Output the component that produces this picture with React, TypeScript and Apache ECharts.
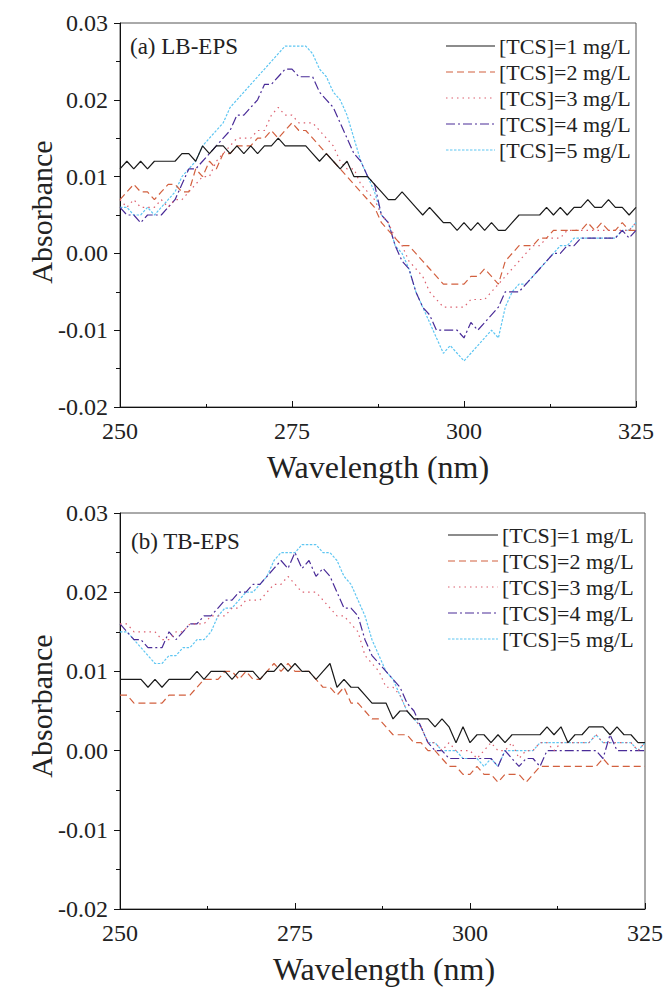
import React, { useEffect, useRef } from "react";
import * as echarts from "echarts";

const wavelengths = [
  250, 251, 252, 253, 254, 255, 256, 257, 258, 259,
  260, 261, 262, 263, 264, 265, 266, 267, 268, 269,
  270, 271, 272, 273, 274, 275, 276, 277, 278, 279,
  280, 281, 282, 283, 284, 285, 286, 287, 288, 289,
  290, 291, 292, 293, 294, 295, 296, 297, 298, 299,
  300, 301, 302, 303, 304, 305, 306, 307, 308, 309,
  310, 311, 312, 313, 314, 315, 316, 317, 318, 319,
  320, 321, 322, 323, 324, 325,
];

const seriesNames = ["[TCS]=1 mg/L", "[TCS]=2 mg/L", "[TCS]=3 mg/L", "[TCS]=4 mg/L", "[TCS]=5 mg/L"];
const panelTitles = ["(a) LB-EPS", "(b) TB-EPS"];
const yTicks = [-0.02, -0.01, 0.0, 0.01, 0.02, 0.03];
const xTicks = [250, 275, 300, 325];

// (a) LB-EPS
const lb1 = [
  0.011, 0.012, 0.011, 0.012, 0.011, 0.012, 0.012, 0.012, 0.012, 0.013,
  0.013, 0.012, 0.014, 0.013, 0.014, 0.014, 0.013, 0.014, 0.013, 0.014,
  0.013, 0.014, 0.014, 0.015, 0.014, 0.014, 0.014, 0.014, 0.013, 0.012,
  0.013, 0.012, 0.011, 0.012, 0.010, 0.010, 0.010, 0.009, 0.008, 0.007,
  0.007, 0.008, 0.007, 0.006, 0.005, 0.006, 0.005, 0.004, 0.004, 0.003,
  0.004, 0.003, 0.004, 0.003, 0.004, 0.003, 0.003, 0.004, 0.005, 0.005,
  0.005, 0.005, 0.006, 0.005, 0.006, 0.005, 0.006, 0.006, 0.007, 0.006,
  0.006, 0.007, 0.006, 0.006, 0.005, 0.006,
];
const lb2 = [
  0.007, 0.008, 0.009, 0.008, 0.008, 0.007, 0.008, 0.009, 0.009, 0.008,
  0.008, 0.011, 0.010, 0.012, 0.011, 0.013, 0.013, 0.014, 0.014, 0.014,
  0.015, 0.015, 0.016, 0.015, 0.016, 0.017, 0.016, 0.016, 0.015, 0.014,
  0.013, 0.012, 0.011, 0.010, 0.009, 0.008, 0.007, 0.006, 0.004, 0.003,
  0.002, 0.001, 0.001, 0.000, -0.001, -0.002, -0.003, -0.004, -0.004, -0.004,
  -0.004, -0.003, -0.003, -0.002, -0.003, -0.004, -0.001, 0.000, 0.001, 0.001,
  0.001, 0.002, 0.002, 0.003, 0.003, 0.003, 0.003, 0.003, 0.004, 0.003,
  0.004, 0.003, 0.003, 0.004, 0.003, 0.003,
];
const lb3 = [
  0.007, 0.006, 0.007, 0.006, 0.006, 0.006, 0.007, 0.006, 0.007, 0.007,
  0.008, 0.009, 0.010, 0.010, 0.012, 0.013, 0.014, 0.015, 0.015, 0.015,
  0.016, 0.016, 0.018, 0.019, 0.018, 0.018, 0.017, 0.017, 0.017, 0.016,
  0.015, 0.014, 0.012, 0.011, 0.011, 0.009, 0.008, 0.007, 0.005, 0.004,
  0.002, 0.001, -0.001, -0.002, -0.003, -0.005, -0.006, -0.007, -0.007, -0.007,
  -0.007, -0.006, -0.006, -0.006, -0.005, -0.004, -0.003, -0.002, -0.001, 0.000,
  0.001, 0.001, 0.002, 0.002, 0.002, 0.003, 0.003, 0.003, 0.003, 0.003,
  0.003, 0.003, 0.003, 0.003, 0.003, 0.004,
];
const lb4 = [
  0.006, 0.005, 0.005, 0.004, 0.005, 0.005, 0.005, 0.006, 0.007, 0.009,
  0.011, 0.011, 0.012, 0.013, 0.014, 0.015, 0.016, 0.018, 0.018, 0.019,
  0.020, 0.022, 0.022, 0.023, 0.024, 0.024, 0.023, 0.023, 0.023, 0.021,
  0.020, 0.019, 0.017, 0.015, 0.013, 0.012, 0.010, 0.009, 0.005, 0.004,
  0.001, -0.001, -0.002, -0.005, -0.007, -0.008, -0.010, -0.010, -0.010, -0.010,
  -0.011, -0.009, -0.010, -0.009, -0.008, -0.007, -0.005, -0.005, -0.005, -0.004,
  -0.003, -0.002, -0.001, 0.000, 0.000, 0.001, 0.001, 0.002, 0.002, 0.002,
  0.002, 0.002, 0.002, 0.003, 0.002, 0.003,
];
const lb5 = [
  0.006, 0.006, 0.005, 0.005, 0.006, 0.005, 0.006, 0.007, 0.008, 0.010,
  0.011, 0.012, 0.014, 0.015, 0.016, 0.017, 0.019, 0.020, 0.021, 0.022,
  0.023, 0.024, 0.025, 0.026, 0.027, 0.027, 0.027, 0.027, 0.026, 0.024,
  0.023, 0.021, 0.020, 0.018, 0.015, 0.012, 0.010, 0.008, 0.005, 0.004,
  0.001, 0.000, -0.002, -0.005, -0.007, -0.009, -0.011, -0.013, -0.012, -0.013,
  -0.014, -0.013, -0.012, -0.011, -0.010, -0.011, -0.007, -0.005, -0.004, -0.004,
  -0.003, -0.002, -0.001, 0.000, 0.001, 0.001, 0.002, 0.002, 0.002, 0.002,
  0.002, 0.002, 0.002, 0.003, 0.003, 0.004,
];

// (b) TB-EPS
const tb1 = [
  0.009, 0.009, 0.009, 0.009, 0.008, 0.009, 0.008, 0.009, 0.009, 0.009,
  0.009, 0.010, 0.009, 0.010, 0.010, 0.010, 0.009, 0.010, 0.010, 0.010,
  0.009, 0.010, 0.010, 0.011, 0.010, 0.011, 0.010, 0.010, 0.009, 0.010,
  0.011, 0.008, 0.009, 0.008, 0.008, 0.007, 0.006, 0.006, 0.006, 0.004,
  0.005, 0.005, 0.004, 0.004, 0.004, 0.003, 0.004, 0.003, 0.001, 0.003,
  0.001, 0.002, 0.002, 0.001, 0.002, 0.001, 0.002, 0.002, 0.002, 0.002,
  0.002, 0.003, 0.002, 0.003, 0.001, 0.002, 0.002, 0.003, 0.003, 0.003,
  0.002, 0.003, 0.002, 0.002, 0.001, 0.001,
];
const tb2 = [
  0.007, 0.007, 0.006, 0.006, 0.006, 0.006, 0.006, 0.007, 0.007, 0.007,
  0.007, 0.008, 0.009, 0.009, 0.009, 0.010, 0.010, 0.009, 0.010, 0.009,
  0.009, 0.010, 0.011, 0.010, 0.011, 0.010, 0.010, 0.010, 0.009, 0.008,
  0.008, 0.007, 0.008, 0.006, 0.006, 0.005, 0.004, 0.004, 0.003, 0.002,
  0.002, 0.002, 0.001, 0.001, 0.000, 0.000, -0.001, -0.002, -0.002, -0.003,
  -0.003, -0.002, -0.003, -0.003, -0.004, -0.003, -0.003, -0.003, -0.004, -0.003,
  -0.002, -0.002, -0.002, -0.002, -0.002, -0.002, -0.002, -0.002, -0.002, -0.001,
  -0.002, -0.002, -0.002, -0.002, -0.002, -0.002,
];
const tb3 = [
  0.016, 0.016, 0.015, 0.015, 0.015, 0.015, 0.014, 0.014, 0.015, 0.015,
  0.016, 0.016, 0.016, 0.017, 0.017, 0.017, 0.018, 0.018, 0.019, 0.019,
  0.019, 0.020, 0.021, 0.021, 0.022, 0.021, 0.020, 0.020, 0.020, 0.019,
  0.018, 0.017, 0.017, 0.016, 0.015, 0.012, 0.011, 0.010, 0.008, 0.008,
  0.007, 0.005, 0.004, 0.003, 0.001, 0.001, 0.000, 0.001, 0.000, 0.000,
  0.000, -0.001, 0.000, 0.001, 0.000, 0.000, 0.001, -0.001, 0.000, 0.000,
  0.001, 0.001, 0.000, 0.001, 0.001, 0.001, 0.001, 0.001, 0.002, 0.001,
  0.001, 0.001, 0.001, 0.001, 0.000, 0.001,
];
const tb4 = [
  0.016, 0.015, 0.014, 0.014, 0.013, 0.013, 0.013, 0.015, 0.014, 0.015,
  0.016, 0.016, 0.017, 0.017, 0.018, 0.019, 0.019, 0.020, 0.020, 0.021,
  0.021, 0.022, 0.023, 0.024, 0.023, 0.025, 0.023, 0.024, 0.022, 0.023,
  0.022, 0.020, 0.018, 0.018, 0.017, 0.014, 0.012, 0.011, 0.010, 0.009,
  0.008, 0.006, 0.005, 0.003, 0.001, 0.000, 0.000, -0.001, -0.001, -0.001,
  -0.001, -0.001, -0.001, -0.001, -0.002, 0.000, -0.001, -0.002, -0.001, -0.001,
  -0.002, 0.000, 0.000, 0.000, 0.000, 0.000, 0.000, 0.000, 0.000, -0.001,
  0.002, 0.000, 0.000, 0.000, 0.000, 0.000,
];
const tb5 = [
  0.015, 0.015, 0.014, 0.013, 0.012, 0.011, 0.011, 0.012, 0.012, 0.013,
  0.013, 0.014, 0.014, 0.015, 0.017, 0.018, 0.018, 0.019, 0.020, 0.020,
  0.021, 0.022, 0.024, 0.025, 0.025, 0.025, 0.026, 0.026, 0.026, 0.025,
  0.025, 0.024, 0.022, 0.021, 0.019, 0.017, 0.014, 0.012, 0.010, 0.009,
  0.007, 0.005, 0.004, 0.003, 0.001, 0.001, 0.000, 0.000, 0.000, -0.001,
  -0.001, -0.001, -0.002, -0.001, -0.002, 0.000, 0.000, 0.000, 0.000, 0.000,
  0.001, 0.001, 0.001, 0.001, 0.001, 0.001, 0.001, 0.001, 0.002, 0.001,
  0.001, 0.001, 0.001, 0.001, 0.000, 0.001,
];

const lbSeries = [lb1, lb2, lb3, lb4, lb5];
const tbSeries = [tb1, tb2, tb3, tb4, tb5];

const colors = ["#1a1a1a", "#d2603f", "#dc5f6e", "#4a2c98", "#5ec6f2"];
const dashTypes: any[] = ["solid", [7, 4], [1.5, 4], [9, 3, 2, 3], [2.5, 1.5]];
const SERIF = "Liberation Serif";

export default function App() {
  const ref = useRef<HTMLDivElement>(null);

  useEffect(() => {
    if (!ref.current) return;
    const chart = echarts.init(ref.current, undefined, { renderer: "svg" });

    const grids = [
      { left: 120, top: 23, width: 516, height: 384 },
      { left: 120, top: 513, width: 528, height: 396 },
    ];

    const makeX = (gi: number) => ({
      type: "value",
      gridIndex: gi,
      min: xTicks[0],
      max: xTicks[xTicks.length - 1],
      interval: 25,
      axisLine: { show: true, onZero: false, lineStyle: { color: "#111", width: 1 } },
      axisTick: { show: true, inside: true, length: 6, lineStyle: { color: "#111" } },
      minorTick: { show: true, splitNumber: 2, length: 3, lineStyle: { color: "#111" } },
      splitLine: { show: false },
      axisLabel: { color: "#222", fontSize: 24, fontFamily: SERIF, margin: 12 },
    });
    const makeY = (gi: number) => ({
      type: "value",
      gridIndex: gi,
      min: yTicks[0],
      max: yTicks[yTicks.length - 1],
      interval: 0.01,
      axisLine: { show: true, onZero: false, lineStyle: { color: "#111", width: 1 } },
      axisTick: { show: true, inside: false, length: 6, lineStyle: { color: "#111" } },
      minorTick: { show: true, splitNumber: 2, length: 4, lineStyle: { color: "#111" } },
      splitLine: { show: false },
      axisLabel: {
        color: "#222",
        fontSize: 24,
        fontFamily: SERIF,
        margin: 12,
        formatter: (v: number) => v.toFixed(2),
      },
    });

    const series: any[] = [];
    [lbSeries, tbSeries].forEach((group, gi) => {
      group.forEach((vals, k) => {
        series.push({
          name: seriesNames[k],
          type: "line",
          xAxisIndex: gi,
          yAxisIndex: gi,
          symbol: "none",
          data: wavelengths.map((w, i) => [w, vals[i]]),
          lineStyle: { color: colors[k], width: 1.2, type: dashTypes[k] },
          itemStyle: { color: colors[k] },
          z: 10 - k,
        });
      });
    });

    const legendPos = [
      { x1: 446, x2: 495, tx: 499, y0: 46 },
      { x1: 448, x2: 498, tx: 502, y0: 535 },
    ];
    const legendGraphics: any[] = [];
    legendPos.forEach((p) => {
      seriesNames.forEach((name, k) => {
        const y = p.y0 + k * 26;
        legendGraphics.push({
          type: "line",
          shape: { x1: p.x1, y1: y, x2: p.x2, y2: y },
          style: { stroke: colors[k], lineWidth: 1.2, lineDash: k === 0 ? null : dashTypes[k] },
          silent: true,
        });
        legendGraphics.push({
          type: "text",
          x: p.tx,
          y: y,
          style: { text: name, fontSize: 22, fontFamily: SERIF, fill: "#222", align: "left", verticalAlign: "middle" },
          silent: true,
        });
      });
    });

    const option: any = {
      animation: false,
      backgroundColor: "#fff",
      grid: grids.map((g) => ({ ...g, show: true, borderColor: "#555", borderWidth: 1, backgroundColor: "transparent" })),
      xAxis: [makeX(0), makeX(1)],
      yAxis: [makeY(0), makeY(1)],
      series,
      graphic: [
        ...legendGraphics,
        {
          type: "text",
          x: 130,
          y: 46,
          style: { text: panelTitles[0], fontSize: 23, fontFamily: SERIF, fill: "#222", align: "left", verticalAlign: "middle" },
        },
        {
          type: "text",
          x: 131,
          y: 541,
          style: { text: panelTitles[1], fontSize: 23, fontFamily: SERIF, fill: "#222", align: "left", verticalAlign: "middle" },
        },
        {
          type: "text",
          x: 41,
          y: 212,
          rotation: Math.PI / 2,
          style: { text: "Absorbance", fontSize: 30, fontFamily: SERIF, fill: "#222", align: "center", verticalAlign: "middle" },
        },
        {
          type: "text",
          x: 41,
          y: 706,
          rotation: Math.PI / 2,
          style: { text: "Absorbance", fontSize: 30, fontFamily: SERIF, fill: "#222", align: "center", verticalAlign: "middle" },
        },
        {
          type: "text",
          x: 378,
          y: 467,
          style: { text: "Wavelength (nm)", fontSize: 32, fontFamily: SERIF, fill: "#222", align: "center", verticalAlign: "middle" },
        },
        {
          type: "text",
          x: 384,
          y: 969,
          style: { text: "Wavelength (nm)", fontSize: 32, fontFamily: SERIF, fill: "#222", align: "center", verticalAlign: "middle" },
        },
      ],
    };

    chart.setOption(option);
    return () => chart.dispose();
  }, []);

  return (
    <div
      ref={ref}
      style={{ position: "fixed", left: 0, top: 0, width: 666, height: 990, background: "#fff" }}
    />
  );
}
